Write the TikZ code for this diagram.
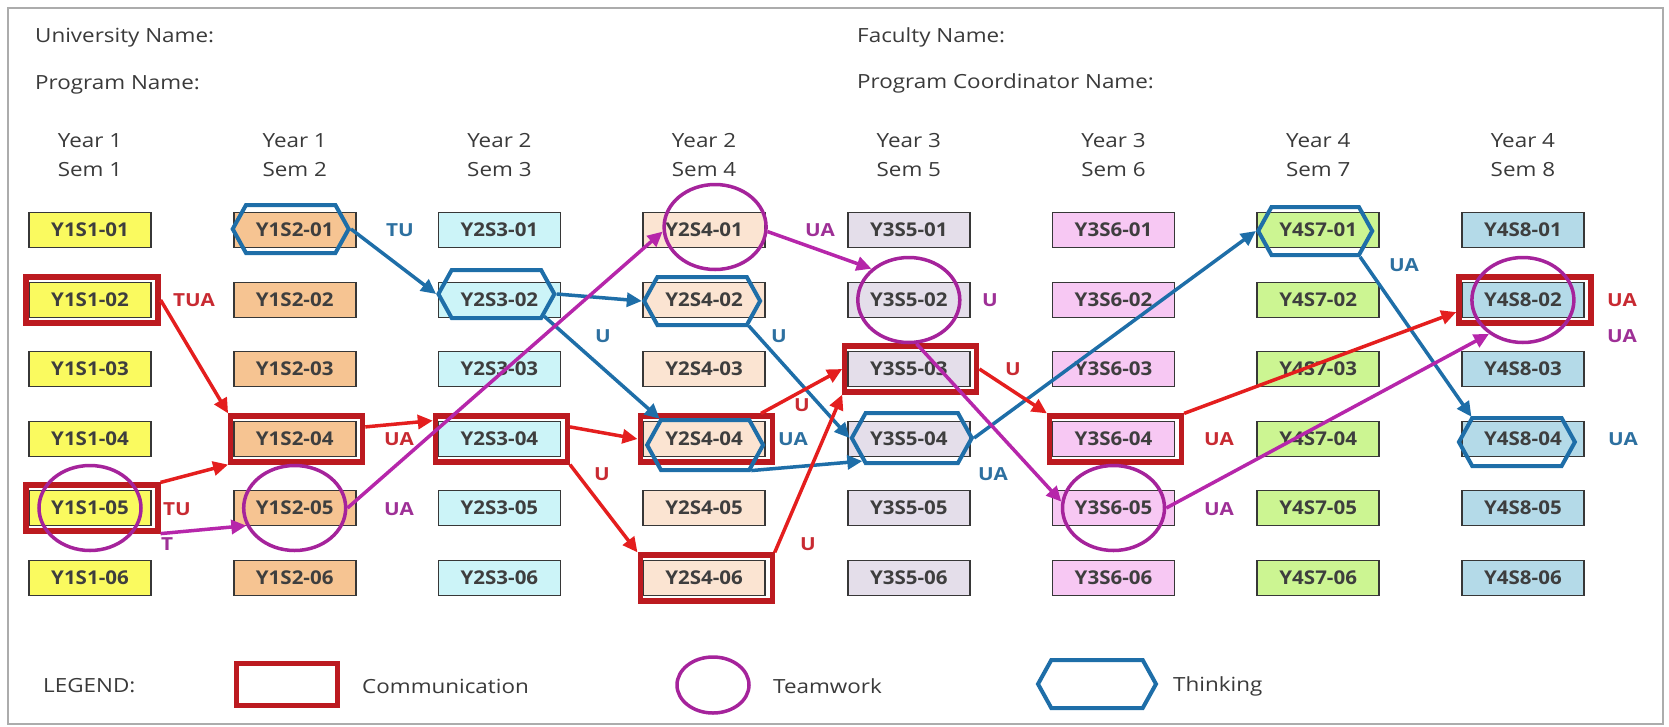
\documentclass[tikz,border=0pt]{standalone}
\usepackage{fontspec}
\setmainfont{Open Sans}[FakeStretch=1.15]
\newfontfamily\coursefont{Open Sans}[FakeStretch=1.08]
\usetikzlibrary{shapes.geometric,shapes.symbols,arrows.meta,calc}

\definecolor{txt}{RGB}{58,58,58}
\definecolor{boxtxt}{RGB}{62,62,62}
\definecolor{framegrey}{RGB}{172,172,172}
\definecolor{boxline}{RGB}{55,55,55}
\definecolor{fA}{RGB}{250,250,95}
\definecolor{fB}{RGB}{246,196,146}
\definecolor{fC}{RGB}{204,244,248}
\definecolor{fD}{RGB}{251,228,210}
\definecolor{fE}{RGB}{228,222,234}
\definecolor{fF}{RGB}{247,200,243}
\definecolor{fG}{RGB}{204,245,146}
\definecolor{fH}{RGB}{180,218,232}
\definecolor{commred}{RGB}{188,26,32}
\definecolor{arrred}{RGB}{228,30,30}
\definecolor{teammag}{RGB}{165,35,155}
\definecolor{arrmag}{RGB}{182,38,170}
\definecolor{thinkblue}{RGB}{30,110,168}
\definecolor{lblred}{RGB}{200,42,50}
\definecolor{lblmag}{RGB}{158,48,150}
\definecolor{lblblue}{RGB}{45,112,160}

\begin{document}
\begin{tikzpicture}[x=1pt,y=-1pt,
  head/.style={text=txt,inner sep=0pt,font=\fontsize{19.5}{20}\selectfont},
  course/.style={draw=boxline,line width=1.8pt,minimum width=122pt,minimum height=35pt,
    inner sep=0pt,text=boxtxt,font=\coursefont\fontsize{19}{20}\selectfont\bfseries},
  comm/.style={draw=commred,line width=5.2pt,minimum width=132pt,minimum height=46pt,inner sep=0pt},
  team/.style={draw=teammag,line width=3.5pt,ellipse,minimum width=102pt,minimum height=85pt,inner sep=0pt},
  think/.style={draw=thinkblue,line width=4pt,signal,signal to=east and west,signal pointer angle=122,
    minimum width=116pt,minimum height=48pt,inner sep=0pt},
  tip/.style={-{Triangle[length=15pt,width=14pt]}},
  carrow/.style={tip,draw=arrred,fill=arrred,line width=3.5pt},
  tarrow/.style={tip,draw=arrmag,fill=arrmag,line width=3.5pt},
  barrow/.style={tip,draw=thinkblue,fill=thinkblue,line width=3.5pt},
  lbl/.style={inner sep=0pt,font=\fontsize{18}{18}\selectfont\bfseries}]

\useasboundingbox (0,0) rectangle (1669,726);
\draw[framegrey,line width=2pt] (8,8) rectangle (1663,724);

% page header
\node[head,anchor=west] (uni) at (35,38) {University Name:};
\node[head,anchor=west] (prog) at (35,85) {Program Name:};
\node[head,anchor=west] (fac) at (857,37) {Faculty Name:};
\node[head,anchor=west] (coord) at (857,83) {Program Coordinator Name:};

% semester columns of courses
\foreach \c/\x/\yr/\fc in {1/90/1/fA,2/294.7/1/fB,3/499.4/2/fC,4/704.1/2/fD,
                           5/908.8/3/fE,6/1113.5/3/fF,7/1318.2/4/fG,8/1522.9/4/fH}{
  \node[head] (yr\c) at (\x,141) {Year \yr};
  \node[head] (sm\c) at (\x,170) {Sem \c};
  \foreach \r/\y in {1/230,2/300,3/369,4/439,5/508,6/578}{
    \node[course,fill=\fc] (b\c\r) at (\x,\y) {Y\yr S\c-0\r};
  }
}

% attribute levels
\node[lbl,text=lblblue] (l1) at (400,230) {TU};
\node[lbl,text=lblred]  (l2) at (194,300) {TUA};
\node[lbl,text=lblred]  (l3) at (399,439) {UA};
\node[lbl,text=lblred]  (l4) at (177,509) {TU};
\node[lbl,text=lblmag]  (l5) at (167,544) {T};
\node[lbl,text=lblmag]  (l6) at (399,509) {UA};
\node[lbl,text=lblblue] (l7) at (603,336) {U};
\node[lbl,text=lblred]  (l8) at (602,474) {U};
\node[lbl,text=lblmag]  (l9) at (820,230) {UA};
\node[lbl,text=lblblue] (l10) at (779,336) {U};
\node[lbl,text=lblred]  (l11) at (802,405) {U};
\node[lbl,text=lblblue] (l12) at (793,439) {UA};
\node[lbl,text=lblred]  (l13) at (808,544) {U};
\node[lbl,text=lblmag]  (l14) at (990,300) {U};
\node[lbl,text=lblred]  (l15) at (1013,369) {U};
\node[lbl,text=lblblue] (l16) at (993,474) {UA};
\node[lbl,text=lblred]  (l17) at (1219,439) {UA};
\node[lbl,text=lblmag]  (l18) at (1219,509) {UA};
\node[lbl,text=lblblue] (l19) at (1404,265) {UA};
\node[lbl,text=lblred]  (l20) at (1622,300) {UA};
\node[lbl,text=lblmag]  (l21) at (1622,336) {UA};
\node[lbl,text=lblblue] (l22) at (1623,439) {UA};

% communication
\foreach \n in {12,15,24,34,44,46,53,64,82}
  \node[comm] (r\n) at ($(b\n)+(2,0)$) {};

% teamwork
\node[team] (t15) at (b15) {};
\node[team] (t25) at (b25) {};
\node[team] (t41) at ($(b41)+(11,-3)$) {};
\node[team] (t52) at (b52) {};
\node[team] (t65) at (b65) {};
\node[team] (t82) at (b82) {};

% thinking
\node[think] (h21) at ($(b21)+(-4,-1)$) {};
\node[think] (h32) at ($(b32)+(-3,-6)$) {};
\node[think] (h42) at ($(b42)+(-2,1)$) {};
\node[think,minimum height=50pt] (h44) at ($(b44)+(1,6)$) {};
\node[think,minimum width=120pt,minimum height=50pt] (h54) at ($(b54)+(3,-1)$) {};
\node[think,minimum width=114pt] (h71) at ($(b71)+(-3,1)$) {};
\node[think] (h84) at ($(b84)+(-6,3)$) {};

% thinking links
\draw[barrow] (h21.east) -- (h32.west);
\draw[barrow] (h32.east) -- (h42.west);
\draw[barrow] (h32.-25) -- (h44.150);
\draw[barrow] (h42.-28) -- (h54.west);
\draw[barrow] (h44.-29) -- (h54.-155);
\draw[barrow] (h54.east) -- (h71.west);
\draw[barrow] (h71.-30) -- (h84.151);

% communication links
\draw[carrow] (r12.east) -- (r24.north west);
\draw[carrow] (r15.north east) -- (r24.south west);
\draw[carrow] (r24.10) -- (r34.165);
\draw[carrow] (r34.10) -- (r44.west);
\draw[carrow] (r34.south east) -- (r46.north west);
\draw[carrow] (r44.25) -- (r53.west);
\draw[carrow] (r46.north east) -- (r53.south west);
\draw[carrow] (r53.east) -- (r64.north west);
\draw[carrow] (r64.north east) -- (r82.190);

% teamwork links
\draw[tarrow] (r15.south east) -- (t25.200);
\draw[tarrow] (t25.east) -- (t41.185);
\draw[tarrow] (t41.-5) -- (t52.140);
\draw[tarrow] (t52.-80) -- (t65.173);
\draw[tarrow] (t65.east) -- (t82.-135);

% legend
\node[head,anchor=west] (leg) at (43,686) {LEGEND:};
\node[comm,line width=5pt,minimum width=101pt,minimum height=42pt] (legc) at (286.5,684) {};
\node[head,anchor=west] (legct) at (362,686) {Communication};
\node[team,minimum width=72pt,minimum height=56pt] (legt) at (713,685) {};
\node[head,anchor=west] (legtt) at (773,686) {Teamwork};
\node[think,minimum width=118pt,minimum height=48pt] (legh) at (1097,684) {};
\node[head,anchor=west] (leght) at (1173,686) {Thinking};
\end{tikzpicture}
\end{document}
